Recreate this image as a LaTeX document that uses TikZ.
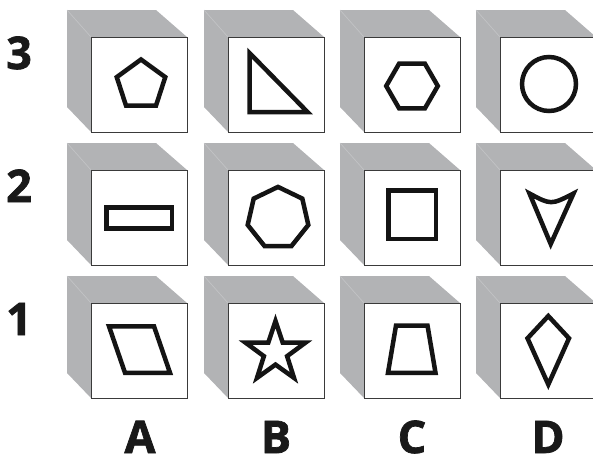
\documentclass[tikz,border=0pt]{standalone}
\usepackage{fontspec}
\newfontfamily\labfont[FakeBold=1.6]{Open Sans}
\definecolor{cubegray}{HTML}{B2B3B5}
\definecolor{edgegray}{HTML}{C4C5C7}
\definecolor{frameline}{HTML}{3A3A3A}
\newcommand\drawcube[2]{%
  \fill[cubegray] ({#1-24},{#2-27}) -- ({#1+65},{#2-27}) -- ({#1+96},{#2}) -- ({#1},{#2}) -- ({#1},{#2+95}) -- ({#1-24},{#2+70}) -- cycle;
  \draw[edgegray,line width=0.6pt] ({#1-24},{#2-27}) -- ({#1},{#2});
  \draw[frameline,fill=white,line width=0.9pt] ({#1},{#2}) rectangle ({#1+96},{#2+95});
}
\tikzset{
  figline/.style={line width=4.5pt,draw=black!92,line join=miter,miter limit=10},
  lab/.style={font=\labfont\bfseries\fontsize{45}{45}\selectfont,inner sep=0pt,anchor=base,text=black!90}
}
\begin{document}
\begin{tikzpicture}[x=1pt,y=-1pt]
\useasboundingbox (0,0) rectangle (593,459);
% cubes
\foreach \L in {91,228,364,500}{
  \foreach \T in {37,170,303}{
    \drawcube{\L}{\T}
  }
}
% row 3
\draw[figline] (141,85) +(90:25.5pt) -- +(162:25.5pt) -- +(234:25.5pt) -- +(306:25.5pt) -- +(18:25.5pt) -- cycle;
\draw[figline] (249.5,53) -- (249.5,112) -- (307.5,112) -- cycle;
\draw[figline] (412,86) +(0:25.8pt) -- +(60:25.8pt) -- +(120:25.8pt) -- +(180:25.8pt) -- +(240:25.8pt) -- +(300:25.8pt) -- cycle;
\draw[figline] (549,84) circle[radius=27];
% row 2
\draw[figline] (106.5,207.3) rectangle (172,228.7);
\draw[figline] (278,218) +(90:31.1pt) -- +(141.43:31.1pt) -- +(192.86:31.1pt) -- +(244.29:31.1pt) -- +(295.71:31.1pt) -- +(347.14:31.1pt) -- +(38.57:31.1pt) -- cycle;
\draw[figline] (388.3,190.5) rectangle (436,238.8);
\draw[figline] (529.5,193.5) .. controls (551,205) .. (573.5,193.5) -- (550.7,244) -- cycle;
% row 1
\draw[figline] (109,326.3) -- (154,326.3) -- (170,372.8) -- (125,372.8) -- cycle;
\draw[figline] (275.5,352.4) +(90:31.5pt) -- +(126:12.2pt) -- +(162:31.5pt) -- +(198:12.2pt) -- +(234:31.5pt) -- +(270:12.2pt) -- +(306:31.5pt) -- +(342:12.2pt) -- +(18:31.5pt) -- +(54:12.2pt) -- cycle;
\draw[figline] (396,325.5) -- (427.5,325.5) -- (435.5,372.8) -- (388,372.8) -- cycle;
\draw[figline] (548.3,316) -- (569,338.3) -- (548.3,384.5) -- (527.5,338.3) -- cycle;
% labels
\node[lab] (r3) at (19,69) {3};
\node[lab] (r2) at (19,202) {2};
\node[lab] (r1) at (19,335) {1};
\node[lab] (cA) at (140,453) {A};
\node[lab] (cB) at (276,453) {B};
\node[lab] (cC) at (412,453) {C};
\node[lab] (cD) at (548,453) {D};
\end{tikzpicture}
\end{document}
